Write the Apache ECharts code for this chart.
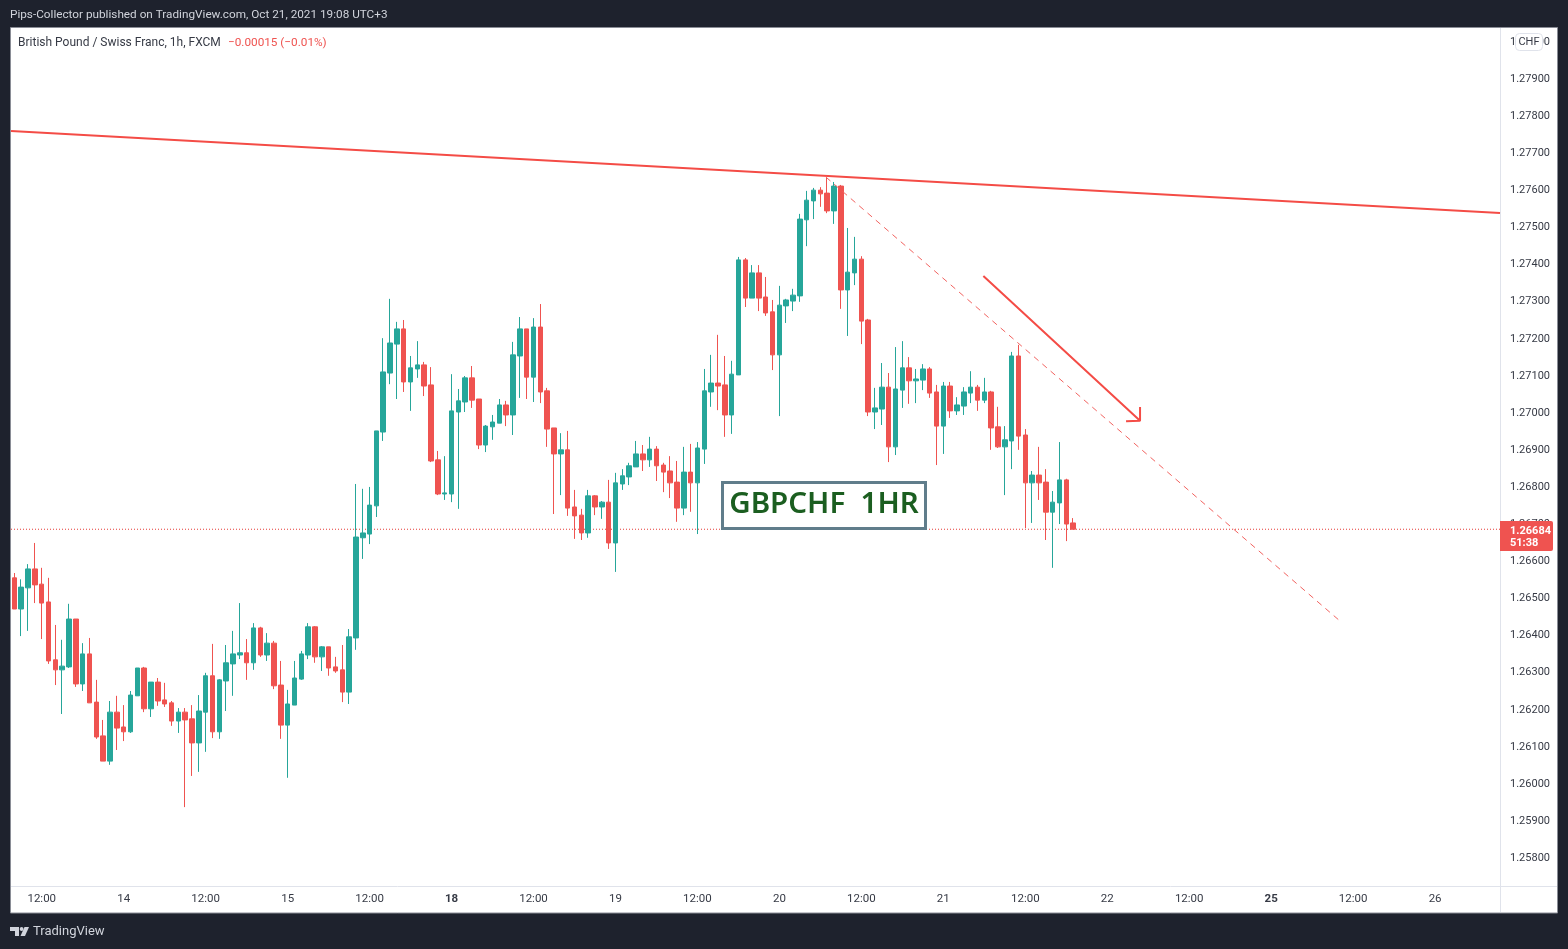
<!DOCTYPE html>
<html><head><meta charset="utf-8">
<style>html,body{margin:0;padding:0;background:#1e222d}#c{width:1568px;height:949px}</style>
<script src="https://cdn.jsdelivr.net/npm/echarts@6/dist/echarts.min.js"></script>
</head><body><div id="c"></div>
<script>
// Hourly bars, oldest first
const opens=[
1.26553,1.26469,1.26526,1.26577,1.26536,1.26488,1.26332,1.26305,1.26313,1.26442,
1.26267,1.26348,1.26218,1.26127,1.26059,1.26191,1.26151,1.26138,1.26235,1.26310,
1.26200,1.26272,1.26224,1.26216,1.26167,1.26191,1.26173,1.26108,1.26191,1.26289,
1.26138,1.26275,1.26321,1.26345,1.26351,1.26324,1.26418,1.26345,1.26377,1.26264,
1.26156,1.26210,1.26280,1.26345,1.26421,1.26340,1.26367,1.26313,1.26305,1.26245,
1.26391,1.26661,1.26671,1.26747,1.26946,1.27105,1.27183,1.27224,1.27081,1.27116,
1.27127,1.27073,1.26871,1.26779,1.26779,1.27000,1.27027,1.27092,1.27035,1.26911,
1.26960,1.26970,1.27019,1.26992,1.27151,1.27224,1.27094,1.27229,1.27057,1.26957,
1.26887,1.26898,1.26744,1.26722,1.26674,1.26774,1.26744,1.26757,1.26647,1.26806,
1.26825,1.26852,1.26887,1.26871,1.26900,1.26857,1.26841,1.26811,1.26741,1.26838,
1.26809,1.26900,1.27054,1.27078,1.27073,1.26992,1.27100,1.27410,1.27307,1.27375,
1.27310,1.27270,1.27154,1.27286,1.27299,1.27313,1.27518,1.27569,1.27598,1.27590,
1.27542,1.27609,1.27329,1.27375,1.27412,1.27248,1.27000,1.27008,1.27067,1.26906,
1.27059,1.27119,1.27084,1.27086,1.27116,1.27054,1.26962,1.27070,1.27003,1.27016,
1.27051,1.27067,1.27032,1.27054,1.26960,1.26906,1.26922,1.27151,1.26938,1.26809,
1.26830,1.26811,1.26730,1.26755,1.26817,1.26701];
const closes=[
1.26469,1.26528,1.26577,1.26534,1.26485,1.26329,1.26305,1.26315,1.26442,1.26267,
1.26348,1.26216,1.26124,1.26059,1.26191,1.26148,1.26138,1.26237,1.26310,1.26200,
1.26272,1.26221,1.26213,1.26167,1.26191,1.26170,1.26108,1.26194,1.26289,1.26138,
1.26278,1.26324,1.26348,1.26351,1.26324,1.26418,1.26345,1.26377,1.26262,1.26156,
1.26213,1.26283,1.26348,1.26421,1.26340,1.26367,1.26310,1.26302,1.26245,1.26394,
1.26663,1.26674,1.26749,1.26949,1.27108,1.27186,1.27224,1.27081,1.27119,1.27127,
1.27070,1.26868,1.26779,1.26782,1.27003,1.27030,1.27092,1.27032,1.26911,1.26962,
1.26973,1.27019,1.26992,1.27154,1.27224,1.27094,1.27229,1.27054,1.26954,1.26887,
1.26898,1.26741,1.26720,1.26674,1.26774,1.26744,1.26757,1.26647,1.26809,1.26828,
1.26855,1.26887,1.26871,1.26900,1.26855,1.26838,1.26809,1.26741,1.26838,1.26809,
1.26903,1.27057,1.27078,1.27070,1.26992,1.27102,1.27410,1.27307,1.27375,1.27307,
1.27267,1.27154,1.27288,1.27302,1.27315,1.27520,1.27571,1.27598,1.27588,1.27542,
1.27609,1.27329,1.27377,1.27412,1.27245,1.27000,1.27011,1.27067,1.26906,1.27062,
1.27119,1.27084,1.27089,1.27116,1.27051,1.26962,1.27070,1.27003,1.27019,1.27054,
1.27067,1.27032,1.27054,1.26957,1.26906,1.26925,1.27151,1.26935,1.26809,1.26830,
1.26809,1.26730,1.26757,1.26817,1.26698,1.26684];
const lows=[
1.26469,1.26396,1.26410,1.26485,1.26388,1.26321,1.26264,1.26186,1.26310,1.26259,
1.26248,1.26216,1.26119,1.26059,1.26049,1.26089,1.26113,1.26135,1.26235,1.26191,
1.26178,1.26208,1.26205,1.26154,1.26135,1.25935,1.26019,1.26030,1.26084,1.26121,
1.26119,1.26194,1.26235,1.26334,1.26278,1.26305,1.26340,1.26329,1.26253,1.26119,
1.26014,1.26210,1.26278,1.26334,1.26324,1.26302,1.26289,1.26297,1.26218,1.26213,
1.26359,1.26604,1.26644,1.26717,1.26922,1.27075,1.27035,1.27054,1.27003,1.27092,
1.27043,1.26865,1.26776,1.26763,1.26757,1.26739,1.27000,1.27011,1.26900,1.26892,
1.26925,1.26970,1.26962,1.26938,1.27038,1.27035,1.27027,1.27024,1.26906,1.26725,
1.26776,1.26720,1.26658,1.26655,1.26661,1.26722,1.26712,1.26631,1.26569,1.26790,
1.26803,1.26852,1.26841,1.26852,1.26814,1.26784,1.26768,1.26704,1.26722,1.26731,
1.26671,1.26860,1.27014,1.27005,1.26933,1.26941,1.27100,1.27283,1.27307,1.27272,
1.27259,1.27113,1.26989,1.27240,1.27272,1.27297,1.27447,1.27520,1.27553,1.27536,
1.27507,1.27278,1.27205,1.27342,1.27183,1.26989,1.26954,1.26965,1.26865,1.26884,
1.27011,1.27022,1.27024,1.27059,1.27038,1.26857,1.26887,1.26984,1.26992,1.26992,
1.27024,1.27003,1.27024,1.26898,1.26903,1.26776,1.26846,1.26898,1.26687,1.26701,
1.26763,1.26655,1.26580,1.26698,1.26652,1.26684];
const highs=[
1.26566,1.26549,1.26590,1.26647,1.26580,1.26553,1.26426,1.26386,1.26483,1.26442,
1.26377,1.26391,1.26278,1.26170,1.26221,1.26235,1.26210,1.26248,1.26310,1.26313,
1.26272,1.26283,1.26270,1.26221,1.26202,1.26202,1.26210,1.26237,1.26297,1.26375,
1.26280,1.26372,1.26410,1.26485,1.26388,1.26431,1.26421,1.26404,1.26383,1.26329,
1.26251,1.26329,1.26356,1.26431,1.26423,1.26369,1.26367,1.26340,1.26372,1.26415,
1.26806,1.26793,1.26798,1.26949,1.27199,1.27305,1.27243,1.27248,1.27151,1.27191,
1.27135,1.27121,1.26895,1.26881,1.27102,1.27062,1.27097,1.27124,1.27035,1.26965,
1.26992,1.27035,1.27030,1.27189,1.27256,1.27224,1.27253,1.27291,1.27065,1.26957,
1.26943,1.26949,1.26790,1.26739,1.26790,1.26776,1.26760,1.26817,1.26836,1.26846,
1.26863,1.26922,1.26911,1.26933,1.26908,1.26863,1.26881,1.26868,1.26906,1.26914,
1.26919,1.27116,1.27154,1.27208,1.27151,1.27138,1.27418,1.27415,1.27396,1.27396,
1.27364,1.27302,1.27340,1.27305,1.27332,1.27534,1.27596,1.27604,1.27606,1.27631,
1.27620,1.27612,1.27496,1.27472,1.27420,1.27251,1.27065,1.27132,1.27105,1.27175,
1.27191,1.27148,1.27116,1.27129,1.27121,1.27073,1.27081,1.27081,1.27040,1.27067,
1.27110,1.27073,1.27092,1.27057,1.27014,1.26962,1.27162,1.27181,1.26954,1.26841,
1.26906,1.26846,1.26787,1.26919,1.26820,1.26714];
const barCount=218;
const tickBars=[4,16,28,40,52,64,76,88,100,112,124,136,148,160,172,184,196,208];
const tickLabels=["12:00","14","12:00","15","12:00","18","12:00","19","12:00","20","12:00","21","12:00","22","12:00","25","12:00","26"];
const weekStarts=["18","25"];
const lastPrice=1.26684;
const trendLine=[[-0.5,1.277574],[217.5,1.275364]];
const projection=[[118.8,1.276334],[193.9,1.264394]];
const arrow=[[141.86,1.273666],[164.8,1.269765],[164.8,1.270135],[164.8,1.269765],[162.75,1.26975]];
const priceLine=[[-0.5,lastPrice],[217.5,lastPrice]];

const UP='#26a69a',DOWN='#ef5350',AXIS='#e0e3eb',TXT='#363a45';
const FONT='Roboto, "Liberation Sans", sans-serif';
const categories=Array.from({length:barCount},(_,i)=>{const k=tickBars.indexOf(i);return k<0?'':tickLabels[k];});
const candles=opens.map((o,i)=>[o,closes[i],lows[i],highs[i]]);
const txt=(x,y,text,fill,size,extra)=>({type:'text',z:50,silent:true,style:Object.assign({x,y,text,fill,font:size+'px '+FONT,textVerticalAlign:'middle'},extra||{})});

const chart=echarts.init(document.getElementById('c'),null,{renderer:'canvas',width:1568,height:949});
chart.setOption({
 animation:false,
 backgroundColor:'#1e222d',
 grid:{left:11,top:3.9,width:1489,height:890.4,containLabel:false},
 xAxis:[
  {type:'category',data:categories,boundaryGap:true,offset:-8.3,position:'bottom',
   axisLine:{show:false},axisTick:{show:false},splitLine:{show:false},
   axisLabel:{interval:(i,v)=>v!=='',margin:7,color:TXT,fontFamily:FONT,fontSize:11.5,hideOverlap:false,
     formatter:v=>weekStarts.includes(v)?'{w|'+v+'}':v,rich:{w:{fontWeight:'bold',fontFamily:FONT,fontSize:11.5,color:TXT}}}},
  {type:'value',min:-0.5,max:217.5,show:false}
 ],
 yAxis:{type:'value',position:'right',min:1.257,max:1.281,interval:0.001,
   axisLine:{show:false},axisTick:{show:false},splitLine:{show:false},
   axisLabel:{margin:10,color:TXT,fontFamily:FONT,fontSize:11,showMinLabel:false,showMaxLabel:false,formatter:v=>'{p|'+v.toFixed(5)+'}',
     rich:{p:{fontFamily:FONT,fontSize:11,color:TXT,padding:[2,0,0,0]}}}},
 series:[
  {type:'candlestick',data:candles,barWidth:5,z:3,
   itemStyle:{color:UP,color0:DOWN,borderColor:UP,borderColor0:DOWN,borderWidth:1}},
  {type:'line',xAxisIndex:1,data:priceLine,symbol:'none',z:2,silent:true,lineStyle:{color:'#e53935',width:1,type:[1,2]}},
  {type:'line',xAxisIndex:1,data:trendLine,symbol:'none',z:4,silent:true,lineStyle:{color:'#f44c46',width:2}},
  {type:'line',xAxisIndex:1,data:projection,symbol:'none',z:4,silent:true,lineStyle:{color:'#f26360',width:1,type:[6,5]}},
  {type:'line',xAxisIndex:1,data:arrow,symbol:'none',z:4,silent:true,lineStyle:{color:'#f44c46',width:2}}
 ],
 graphic:{elements:[
  {type:'rect',z:-10,silent:true,shape:{x:10.5,y:27.5,width:1547,height:885.5},style:{fill:'#fff',stroke:'#8a8d96',lineWidth:1}},
  {type:'line',z:-5,silent:true,shape:{x1:1500.5,y1:28,x2:1500.5,y2:912},style:{stroke:AXIS,lineWidth:1}},
  {type:'line',z:-5,silent:true,shape:{x1:11,y1:886.5,x2:1557,y2:886.5},style:{stroke:AXIS,lineWidth:1}},
  txt(10,15,'Pips-Collector published on TradingView.com, Oct 21, 2021 19:08 UTC+3','#d1d4dc',11.75),
  txt(18,43,'British Pound / Swiss Franc, 1h, FXCM','#363a45',12),
  txt(228,43,'\u22120.00015 (\u22120.01%)','#ef5350',11.75),
  txt(33,932,'TradingView','#d1d4dc',13),
  {type:'polygon',z:50,silent:true,shape:{points:[[10,927],[19,927],[19,936],[15,936],[15,931],[10,931]]},style:{fill:'#d1d4dc'}},
  {type:'circle',z:50,silent:true,shape:{cx:21.6,cy:929,r:1.9},style:{fill:'#d1d4dc'}},
  {type:'polygon',z:50,silent:true,shape:{points:[[24.5,927],[29,927],[25,936],[20.5,936]]},style:{fill:'#d1d4dc'}},
  {type:'rect',z:40,silent:true,shape:{x:722.5,y:482.5,width:203,height:46},style:{fill:'#fff',stroke:'#607d8b',lineWidth:3}},
  {type:'text',z:41,silent:true,style:{x:824,y:505,text:'GBPCHF  1HR',fill:'#1b5e20',font:'600 29.5px "Noto Sans", sans-serif',textAlign:'center',textVerticalAlign:'middle'}},
  {type:'rect',z:40,silent:true,shape:{x:1515.5,y:33.5,width:27,height:17,r:4},style:{fill:'#fff',stroke:AXIS,lineWidth:1}},
  txt(1529,42.5,'CHF','#363a45',11,{textAlign:'center'}),
  {type:'rect',z:45,silent:true,shape:{x:1500,y:521,width:53,height:30,r:[0,2,2,0]},style:{fill:'#ef5350'}},
  txt(1510,531,'1.26684','#fff',11,{font:'bold 11px '+FONT}),
  txt(1510,543.5,'51:38','#fff',11,{font:'bold 11px '+FONT})
 ]}
});
</script></body></html>
